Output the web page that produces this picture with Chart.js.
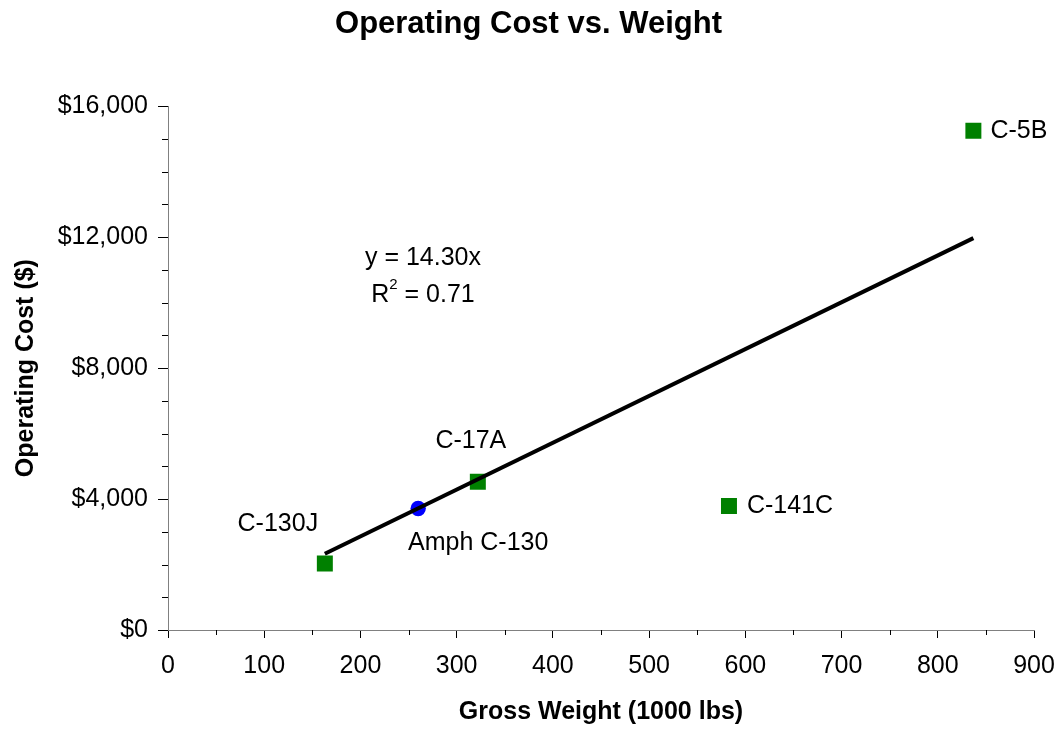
<!DOCTYPE html>
<html>
<head>
<meta charset="utf-8">
<script src="https://cdn.jsdelivr.net/npm/chart.js@4.4.1/dist/chart.umd.min.js"></script>
<style>
  html, body { margin: 0; padding: 0; background: #fff; }
  #wrap { width: 1057px; height: 729px; position: relative; }
</style>
</head>
<body>
<div id="wrap"><canvas id="c" width="1057" height="729"></canvas></div>
<script>
const aircraft = ['C-130J', 'Amph C-130', 'C-17A', 'C-141C', 'C-5B'];
const grossWeight = [163, 260, 322, 583, 837];
const operatingCost = [2030, 3710, 4530, 3790, 15250];
const trendSlope = 14.30;
const rSquared = 0.71;
const xMajorTicks = [0, 100, 200, 300, 400, 500, 600, 700, 800, 900];
const yMajorTicks = [0, 4000, 8000, 12000, 16000];

const FONT = "'Liberation Sans', Arial, sans-serif";

const pointsData = aircraft.map((n, i) => ({ x: grossWeight[i], y: operatingCost[i], name: n }));
const xMin = Math.min(...grossWeight), xMax = Math.max(...grossWeight);
const trendData = [{ x: xMin, y: trendSlope * xMin }, { x: xMax, y: trendSlope * xMax }];

const labelPlacement = {
  'C-130J':     { dx: -47, dy: -39, align: 'center' },
  'Amph C-130': { dx: 60,  dy: 35,  align: 'center' },
  'C-17A':      { dx: -7,  dy: -41, align: 'center' },
  'C-141C':     { dx: 18,  dy: 0,   align: 'left' },
  'C-5B':       { dx: 17,  dy: 0,   align: 'left' }
};

const annotatePlugin = {
  id: 'annotate',
  afterDraw(chart) {
    const ctx = chart.ctx;
    const xs = chart.scales.x, ys = chart.scales.y;
    const area = chart.chartArea;
    ctx.save();
    // minor ticks
    ctx.strokeStyle = '#000';
    ctx.lineWidth = 1;
    for (let v = 50; v < 900; v += 100) {
      const px = Math.round(xs.getPixelForValue(v)) + 0.5;
      ctx.beginPath(); ctx.moveTo(px, area.bottom); ctx.lineTo(px, area.bottom + 5); ctx.stroke();
    }
    for (let v = 1000; v < 16000; v += 1000) {
      if (yMajorTicks.includes(v)) continue;
      const py = Math.round(ys.getPixelForValue(v)) + 0.5;
      ctx.beginPath(); ctx.moveTo(area.left, py); ctx.lineTo(area.left - 6, py); ctx.stroke();
    }
    // point labels
    ctx.fillStyle = '#000';
    ctx.font = '25px ' + FONT;
    ctx.textBaseline = 'middle';
    pointsData.forEach(p => {
      const pl = labelPlacement[p.name];
      const px = xs.getPixelForValue(p.x), py = ys.getPixelForValue(p.y);
      ctx.textAlign = pl.align;
      ctx.fillText(p.name, px + pl.dx, py + pl.dy);
    });
    // trendline equation
    const ex = area.left + (423 - 168) / 866 * (area.right - area.left);
    const ey1 = area.top + (258 - 106.5) / 523.5 * (area.bottom - area.top);
    const ey2 = ey1 + 37;
    ctx.textAlign = 'center';
    ctx.fillText('y = ' + trendSlope.toFixed(2) + 'x', ex, ey1);
    const part1 = 'R', part3 = ' = ' + rSquared.toFixed(2);
    ctx.font = '25px ' + FONT;
    const w1 = ctx.measureText(part1).width, w3 = ctx.measureText(part3).width;
    ctx.font = '15px ' + FONT;
    const w2 = ctx.measureText('2').width;
    const total = w1 + w2 + w3;
    let sx = ex - total / 2;
    ctx.textAlign = 'left';
    ctx.font = '25px ' + FONT;
    ctx.fillText(part1, sx, ey2);
    ctx.font = '15px ' + FONT;
    ctx.fillText('2', sx + w1, ey2 - 10);
    ctx.font = '25px ' + FONT;
    ctx.fillText(part3, sx + w1 + w2, ey2);
    ctx.restore();
  }
};

new Chart(document.getElementById('c'), {
  type: 'scatter',
  data: {
    datasets: [
      {
        type: 'line',
        label: 'Trend',
        data: trendData,
        borderColor: '#000',
        borderWidth: 4,
        pointRadius: 0,
        fill: false,
        order: 0
      },
      {
        label: 'Aircraft',
        data: pointsData,
        pointStyle: ctx => (ctx.raw && ctx.raw.name === 'Amph C-130') ? 'circle' : 'rect',
        pointRadius: ctx => (ctx.raw && ctx.raw.name === 'Amph C-130') ? 7.7 : 11.3,
        pointBackgroundColor: ctx => (ctx.raw && ctx.raw.name === 'Amph C-130') ? '#0000ff' : '#008000',
        pointBorderColor: ctx => (ctx.raw && ctx.raw.name === 'Amph C-130') ? '#0000ff' : '#008000',
        pointBorderWidth: 0,
        order: 1
      }
    ]
  },
  options: {
    responsive: false,
    animation: false,
    events: [],
    layout: { padding: { left: 0, right: 0, top: 0, bottom: 0 } },
    plugins: {
      legend: { display: false },
      tooltip: { enabled: false },
      title: {
        display: true,
        text: 'Operating Cost vs. Weight',
        color: '#000',
        font: { family: FONT, size: 31, weight: 'bold' },
        padding: { top: 6, bottom: 63 }
      }
    },
    scales: {
      x: {
        type: 'linear',
        min: 0, max: 900,
        afterFit: s => { s.height = 99; s.paddingRight = 23; s.paddingLeft = 0; },
        border: { display: true, color: '#808080', width: 1 },
        grid: {
          display: true, drawOnChartArea: false, drawTicks: true, tickLength: 8,
          color: c => (c.tick && xMajorTicks.includes(c.tick.value)) ? '#000' : 'rgba(0,0,0,0)'
        },
        ticks: {
          stepSize: 50, autoSkip: false, maxRotation: 0, padding: 13,
          color: '#000', font: { family: FONT, size: 25 },
          callback: v => xMajorTicks.includes(v) ? String(v) : ''
        },
        title: {
          display: true, text: 'Gross Weight (1000 lbs)', color: '#000',
          font: { family: FONT, size: 25, weight: 'bold' },
          padding: { top: 0, bottom: 2 }
        }
      },
      y: {
        type: 'linear',
        min: 0, max: 16000,
        afterFit: s => { s.width = 168; },
        border: { display: true, color: '#808080', width: 1 },
        grid: {
          display: true, drawOnChartArea: false, drawTicks: true, tickLength: 10,
          color: c => (c.tick && yMajorTicks.includes(c.tick.value)) ? '#000' : 'rgba(0,0,0,0)'
        },
        ticks: {
          stepSize: 1000, autoSkip: false, padding: 10,
          color: '#000', font: { family: FONT, size: 25 },
          callback: v => yMajorTicks.includes(v) ? '$' + v.toLocaleString('en-US') : ''
        },
        title: {
          display: true, text: 'Operating Cost ($)', color: '#000',
          font: { family: FONT, size: 25, weight: 'bold' },
          padding: { top: 11, bottom: 0 }
        }
      }
    }
  },
  plugins: [annotatePlugin]
});
</script>
</body>
</html>
